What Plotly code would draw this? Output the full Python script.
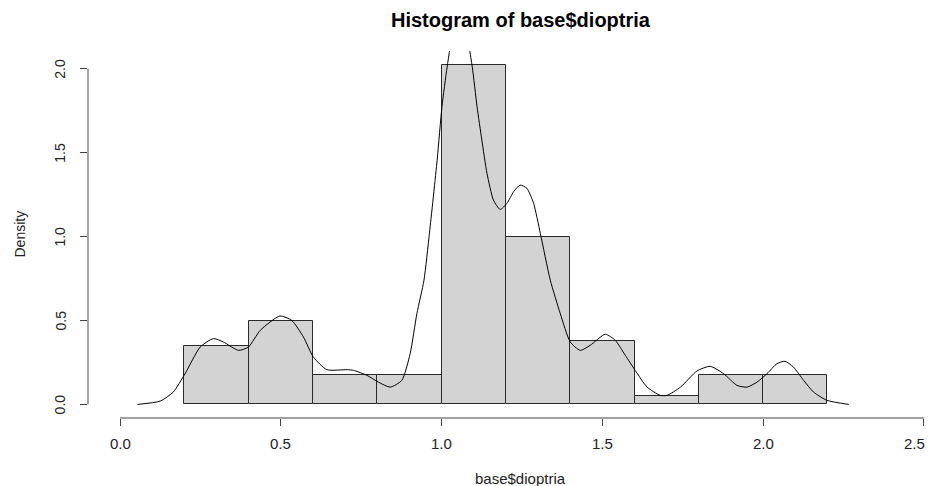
import plotly.graph_objects as go

# Histogram data (density scale, bin width 0.2)
bin_edges = [0.2, 0.4, 0.6, 0.8, 1.0, 1.2, 1.4, 1.6, 1.8, 2.0, 2.2]
bin_density = [0.35, 0.5, 0.175, 0.175, 2.025, 1.0, 0.375, 0.05, 0.175, 0.175]

# Kernel density curve
dens_x = [0.054, 0.125, 0.165, 0.202, 0.249, 0.290, 0.321, 0.368, 0.399, 0.436,
          0.497, 0.534, 0.570, 0.601, 0.643, 0.706, 0.726, 0.768, 0.803, 0.840,
          0.876, 0.902, 0.923, 0.945, 0.962, 0.986, 1.001, 1.017, 1.038, 1.055,
          1.072, 1.095, 1.110, 1.125, 1.141, 1.161, 1.182, 1.203, 1.224, 1.244,
          1.265, 1.286, 1.307, 1.338, 1.369, 1.400, 1.431, 1.462, 1.509, 1.540,
          1.571, 1.602, 1.639, 1.680, 1.701, 1.743, 1.794, 1.835, 1.877, 1.919,
          1.950, 1.981, 2.012, 2.043, 2.068, 2.094, 2.126, 2.157, 2.199, 2.266]
dens_y = [0.0, 0.02, 0.073, 0.183, 0.342, 0.392, 0.372, 0.322, 0.342, 0.442,
          0.527, 0.50, 0.402, 0.282, 0.207, 0.207, 0.203, 0.173, 0.133, 0.103,
          0.143, 0.302, 0.541, 0.74, 1.02, 1.456, 1.775, 2.01, 2.25, 2.32,
          2.26, 2.014, 1.775, 1.576, 1.377, 1.218, 1.162, 1.198, 1.268, 1.307,
          1.288, 1.198, 1.019, 0.74, 0.541, 0.372, 0.322, 0.352, 0.418, 0.382,
          0.293, 0.203, 0.103, 0.054, 0.054, 0.103, 0.199, 0.227, 0.183, 0.113,
          0.103, 0.133, 0.183, 0.243, 0.257, 0.223, 0.143, 0.073, 0.024, 0.0]

x_ticks = [0.0, 0.5, 1.0, 1.5, 2.0, 2.5]
x_tick_labels = ["0.0", "0.5", "1.0", "1.5", "2.0", "2.5"]
y_ticks = [0.0, 0.5, 1.0, 1.5, 2.0]
y_tick_labels = ["0.0", "0.5", "1.0", "1.5", "2.0"]

title_text = "Histogram of base$dioptria"
x_title = "base$dioptria"
y_title = "Density"

FONT = "Liberation Sans, Arial, sans-serif"
TXT = "#222222"
AXC = "#444444"

centers = [(a + b) / 2 for a, b in zip(bin_edges[:-1], bin_edges[1:])]
widths = [b - a for a, b in zip(bin_edges[:-1], bin_edges[1:])]

fig = go.Figure()
fig.add_trace(go.Bar(
    x=centers, y=bin_density, width=widths,
    marker=dict(color="#D3D3D3", line=dict(color="#2a2a2a", width=1)),
    hoverinfo="skip", showlegend=False,
))
fig.add_trace(go.Scatter(
    x=dens_x, y=dens_y, mode="lines",
    line=dict(color="black", width=1, shape="spline", smoothing=0.6),
    showlegend=False, hoverinfo="skip",
))

ymax = max(bin_density)
# the page body has an 8px margin, so the figure is 8px smaller and margins shifted
W, H = 927, 478
ml, mr, mt, mb = 80, 0, 43, 68
px_per_unit = 321.5
x_left = x_ticks[0] - 0.04 * (x_ticks[-1] - x_ticks[0])
x_right = x_left + (W - ml - mr) / px_per_unit
title_x = (512.5 - ml) / (W - ml - mr)

annotations = [
    dict(text="<b>" + title_text + "</b>", xref="paper", yref="paper",
         x=title_x, y=1, yshift=31, showarrow=False,
         font=dict(size=20, color="black", family=FONT), xanchor="center", yanchor="middle"),
    dict(text=x_title, xref="paper", yref="paper",
         x=title_x, y=0, yshift=-60, showarrow=False,
         font=dict(size=15, color=TXT, family=FONT), xanchor="center", yanchor="middle"),
    dict(text=y_title, xref="paper", yref="paper",
         x=0, xshift=-69, y=0.5, showarrow=False, textangle=-90,
         font=dict(size=14, color=TXT, family=FONT), xanchor="center", yanchor="middle"),
]
for i, (v, t) in enumerate(zip(x_ticks, x_tick_labels)):
    last = i == len(x_ticks) - 1
    annotations.append(dict(text=t, xref="x", yref="paper", x=v, y=0, yshift=-25,
                            xshift=3 if last else 0,
                            showarrow=False, xanchor="right" if last else "center",
                            yanchor="middle",
                            font=dict(size=15, color=TXT, family=FONT)))
for v, t in zip(y_ticks, y_tick_labels):
    annotations.append(dict(text=t, xref="paper", yref="y", x=0, y=v, xshift=-28,
                            showarrow=False, xanchor="center", yanchor="middle", textangle=-90,
                            font=dict(size=14, color=TXT, family=FONT)))

fig.update_layout(
    width=W, height=H,
    margin=dict(l=ml, r=mr, t=mt, b=mb, autoexpand=False),
    paper_bgcolor="white", plot_bgcolor="white",
    bargap=0,
    font=dict(family=FONT, color=TXT, size=14),
    xaxis=dict(
        range=[x_left, x_right], showgrid=False, zeroline=False, showline=False,
        tickmode="array", tickvals=x_ticks, showticklabels=False,
        ticks="outside", ticklen=7, tickcolor=AXC, tickwidth=1, automargin=False,
    ),
    yaxis=dict(
        range=[-0.04 * ymax, 1.04 * ymax], showgrid=False, zeroline=False, showline=False,
        tickmode="array", tickvals=y_ticks, showticklabels=False,
        ticks="outside", ticklen=7, tickcolor=AXC, tickwidth=1, automargin=False,
    ),
    shapes=[
        dict(type="line", xref="x", yref="paper", x0=x_ticks[0], x1=x_ticks[-1],
             y0=0, y1=0, line=dict(color=AXC, width=1)),
        dict(type="line", xref="paper", yref="y", x0=0, x1=0,
             y0=y_ticks[0], y1=y_ticks[-1], line=dict(color=AXC, width=1)),
    ],
    annotations=annotations,
)

fig.write_html("out.html")
